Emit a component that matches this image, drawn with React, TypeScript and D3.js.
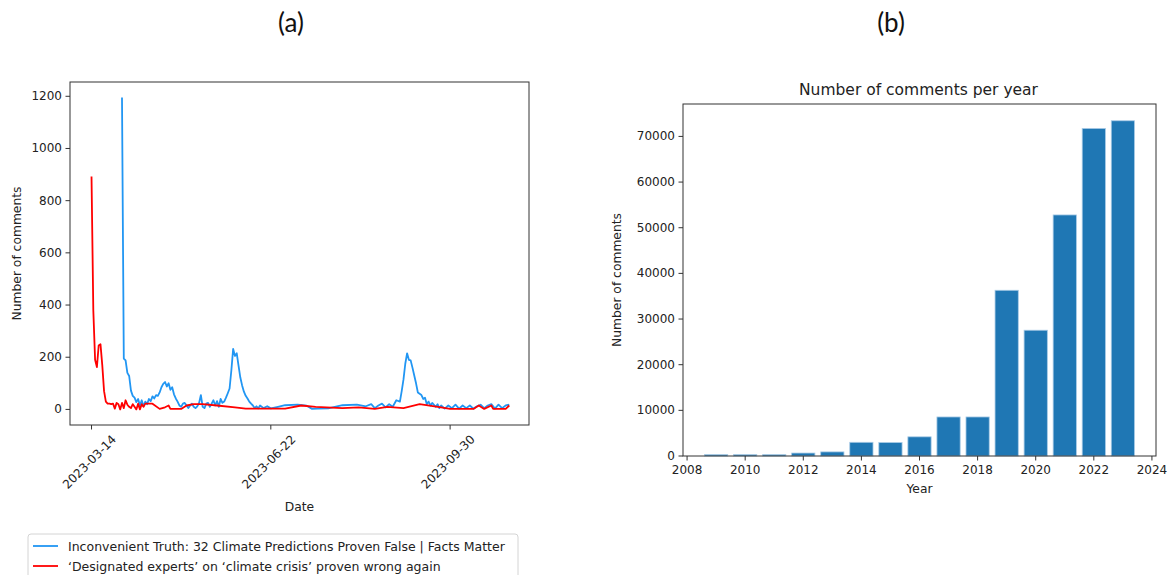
import * as d3 from "d3";

// (a) daily comment counts, days counted from 2023-03-14
const startDate = "2023-03-14";
const blueName = "Inconvenient Truth: 32 Climate Predictions Proven False | Facts Matter";
const redName = "\u2018Designated experts\u2019 on \u2018climate crisis\u2019 proven wrong again";

const blueDays = [
  17, 18, 19, 20, 21, 22, 23, 24, 25, 26, 27, 28, 29, 30, 31, 32, 33, 34, 35, 36, 37, 38, 39, 40,
  41, 42, 43, 44, 45, 46, 47, 48, 49, 50, 51, 52, 53, 54, 55, 56, 57, 58, 59, 60, 61, 62, 63, 64,
  65, 66, 67, 68, 69, 70, 71, 72, 73, 74, 75, 76, 77, 78, 79, 80, 81, 82, 83, 84, 85, 86, 87, 88,
  89, 90, 91, 92, 93, 94, 96, 98, 100, 104, 108, 115, 120, 123, 126, 132, 140, 148, 153, 156, 158,
  160, 162, 164, 166, 168, 170, 172, 173, 174, 175, 176, 177, 178, 179, 180, 181, 182, 183, 184,
  185, 186, 187, 188, 189, 190, 192, 193, 194, 195, 197, 199, 201, 203, 205, 207, 209, 211, 213,
  215, 217, 219, 221, 223, 225, 227, 229, 231, 233,
];
const blueCounts = [
  1195, 195, 188, 140, 128, 72, 52, 45, 28, 40, 15, 35, 12, 30, 20, 40, 32, 50, 42, 55, 52, 65, 85, 98,
  105, 88, 100, 75, 85, 58, 42, 30, 15, 10, 22, 25, 15, 5, 15, 22, 10, 5, 12, 25, 55, 10, 5, 22,
  25, 10, 22, 35, 15, 32, 10, 40, 25, 30, 45, 62, 80, 150, 232, 205, 215, 168, 122, 92, 68, 52, 42, 30,
  22, 15, 5, 12, 4, 15, 5, 12, 4, 10, 16, 18, 14, 2, 3, 4, 16, 18, 12, 20, 5,
  15, 22, 8, 20, 10, 35, 30, 70, 115, 175, 215, 190, 188, 160, 130, 100, 65, 60, 55,
  40, 45, 20, 30, 15, 25, 10, 20, 5, 15, 3, 15, 5, 18, 3, 15, 5, 15, 3,
  12, 18, 5, 15, 20, 3, 18, 5, 15, 18,
];

const redDays = [
  0, 1, 2, 3, 4, 5, 6, 7, 8, 9, 10, 11, 12, 13, 14, 15, 16, 17, 18, 19, 20, 21, 22, 23, 24, 25, 26,
  27, 28, 29, 30, 34, 38, 41, 43, 44, 50, 53, 57, 62, 70, 80, 86, 95, 108, 117, 125, 140, 149, 158,
  165, 174, 183, 195, 200, 213, 216, 219, 223, 224, 231, 233,
];
const redCounts = [
  893, 380, 190, 162, 245, 250, 170, 70, 30, 22, 22, 20, 22, 3, 25, 20, 0, 25, 5, 35, 18, 10, 5, 20, 10, 0, 22,
  0, 20, 10, 22, 22, 2, 8, 15, 2, 2, 15, 20, 20, 15, 8, 3, 3, 3, 15, 10, 5, 8, 2,
  10, 5, 20, 8, 2, 2, 15, 2, 15, 2, 2, 15,
];

const dateTicks = ["2023-03-14", "2023-06-22", "2023-09-30"];
const countTicks = [0, 200, 400, 600, 800, 1000, 1200];

// (b) comments per year
const years = [2009, 2010, 2011, 2012, 2013, 2014, 2015, 2016, 2017, 2018, 2019, 2020, 2021, 2022, 2023];
const yearCounts = [300, 300, 300, 650, 900, 3000, 2950, 4200, 8550, 8550, 36300, 27550, 52800, 71750, 73430];
const yearTicks = [2008, 2010, 2012, 2014, 2016, 2018, 2020, 2022, 2024];

const font = "DejaVu Sans, sans-serif";
const tickSize = 12;
const labelSize = 12.3;
const parse = d3.timeParse("%Y-%m-%d");
const addDays = (d: number) => d3.timeDay.offset(parse(startDate) as Date, d);

const LeftChart = () => {
  const box = { l: 70, r: 529, t: 82, b: 425 };
  const allDays = [...blueDays, ...redDays];
  const [d0, d1] = d3.extent(allDays) as [number, number];
  const dPad = (d1 - d0) * 0.05;
  const x = d3.scaleTime().domain([addDays(d0 - dPad), addDays(d1 + dPad)]).range([box.l, box.r]);
  const maxV = d3.max([...blueCounts, ...redCounts]) as number;
  const y = d3.scaleLinear().domain([-maxV * 0.05, maxV * 1.05]).range([box.b, box.t]);

  const line = d3
    .line<[number, number]>()
    .x((d) => x(addDays(d[0])))
    .y((d) => y(d[1]));
  const blue = blueDays.map((d, i) => [d, blueCounts[i]] as [number, number]);
  const red = redDays.map((d, i) => [d, redCounts[i]] as [number, number]);

  return (
    <g fontFamily={font} fill="#222">
      <path d={line(blue) || ""} fill="none" stroke="#2196f3" strokeWidth={1.8} strokeLinejoin="round" />
      <path d={line(red) || ""} fill="none" stroke="#ff0000" strokeWidth={1.8} strokeLinejoin="round" />
      <rect x={box.l} y={box.t} width={box.r - box.l} height={box.b - box.t} fill="none" stroke="#333" strokeWidth={1} />
      {countTicks.map((t) => (
        <g key={t}>
          <line x1={box.l - 4.5} x2={box.l} y1={y(t)} y2={y(t)} stroke="#333" />
          <text x={box.l - 8} y={y(t)} textAnchor="end" dominantBaseline="central" fontSize={tickSize}>
            {t}
          </text>
        </g>
      ))}
      {dateTicks.map((t) => {
        const tx = x(parse(t) as Date);
        return (
          <g key={t}>
            <line x1={tx} x2={tx} y1={box.b} y2={box.b + 4.5} stroke="#333" />
            <text
              transform={`translate(${tx - 2},${box.b + 37}) rotate(-45)`}
              textAnchor="middle"
              dominantBaseline="central"
              fontSize={tickSize}
            >
              {t}
            </text>
          </g>
        );
      })}
      <text x={(box.l + box.r) / 2} y={507} textAnchor="middle" dominantBaseline="central" fontSize={labelSize}>
        Date
      </text>
      <text
        transform={`translate(17,${(box.t + box.b) / 2}) rotate(-90)`}
        textAnchor="middle"
        dominantBaseline="central"
        fontSize={labelSize}
      >
        Number of comments
      </text>
      <rect x={28} y={534} width={490} height={52} rx={3} fill="#fff" fillOpacity={0.8} stroke="#d4d4d4" />
      <line x1={33} x2={58} y1={546} y2={546} stroke="#2196f3" strokeWidth={1.8} />
      <text x={68} y={546} dominantBaseline="central" fontSize={12.5}>
        {blueName}
      </text>
      <line x1={33} x2={58} y1={566} y2={566} stroke="#ff0000" strokeWidth={1.8} />
      <text x={68} y={566} dominantBaseline="central" fontSize={12.5}>
        {redName}
      </text>
    </g>
  );
};

const RightChart = () => {
  const box = { l: 683, r: 1156, t: 104, b: 456 };
  const bw = 0.8;
  const lo = (d3.min(years) as number) - bw / 2;
  const hi = (d3.max(years) as number) + bw / 2;
  const pad = (hi - lo) * 0.05;
  const x = d3.scaleLinear().domain([lo - pad, hi + pad]).range([box.l, box.r]);
  const y = d3
    .scaleLinear()
    .domain([0, (d3.max(yearCounts) as number) * 1.05])
    .range([box.b, box.t]);
  const yTicks = y.ticks(8).filter((t) => t <= (y.domain()[1] as number));

  return (
    <g fontFamily={font} fill="#222">
      {years.map((yr, i) => (
        <rect
          key={yr}
          x={x(yr - bw / 2)}
          y={y(yearCounts[i])}
          width={x(yr + bw / 2) - x(yr - bw / 2)}
          height={y(0) - y(yearCounts[i])}
          fill="#1f77b4"
          stroke="#a9cbe6"
          strokeWidth={0.8}
        />
      ))}
      <rect x={box.l} y={box.t} width={box.r - box.l} height={box.b - box.t} fill="none" stroke="#333" strokeWidth={1} />
      {yTicks.map((t) => (
        <g key={t}>
          <line x1={box.l - 4.5} x2={box.l} y1={y(t)} y2={y(t)} stroke="#333" />
          <text x={box.l - 8} y={y(t)} textAnchor="end" dominantBaseline="central" fontSize={tickSize}>
            {t}
          </text>
        </g>
      ))}
      {yearTicks.map((t) => (
        <g key={t}>
          <line x1={x(t)} x2={x(t)} y1={box.b} y2={box.b + 4.5} stroke="#333" />
          <text x={x(t)} y={box.b + 14} textAnchor="middle" dominantBaseline="central" fontSize={tickSize}>
            {t}
          </text>
        </g>
      ))}
      <text x={(box.l + box.r) / 2} y={489} textAnchor="middle" dominantBaseline="central" fontSize={labelSize}>
        Year
      </text>
      <text
        transform={`translate(617,${(box.t + box.b) / 2}) rotate(-90)`}
        textAnchor="middle"
        dominantBaseline="central"
        fontSize={labelSize}
      >
        Number of comments
      </text>
      <text x={918.5} y={90} textAnchor="middle" dominantBaseline="central" fontSize={15.5}>
        Number of comments per year
      </text>
    </g>
  );
};

export default function App() {
  return (
    <svg
      width={1168}
      height={575}
      style={{ position: "absolute", left: 0, top: 0, background: "#fff" }}
    >
      <text x={291} y={22} textAnchor="middle" dominantBaseline="central" fontFamily="Lato, sans-serif" fontSize={26} fill="#111">
        (a)
      </text>
      <text x={891} y={22} textAnchor="middle" dominantBaseline="central" fontFamily="Lato, sans-serif" fontSize={26} fill="#111">
        (b)
      </text>
      <LeftChart />
      <RightChart />
    </svg>
  );
}
